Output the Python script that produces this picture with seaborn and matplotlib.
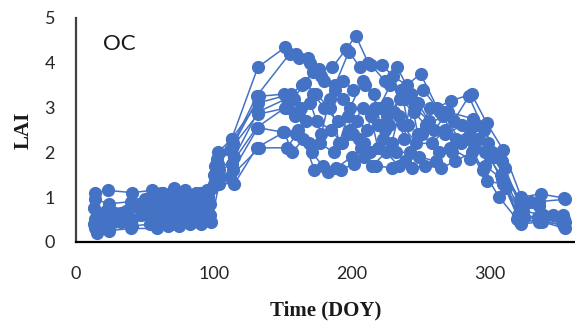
import matplotlib
matplotlib.use("Agg")
import matplotlib.pyplot as plt
import seaborn as sns
import pandas as pd

# Day of year of each LAI observation, one list per season
doy_s1 = [14, 23, 41, 55, 63, 71, 79, 87, 95, 103, 113, 132, 152, 160, 168, 176, 186, 196, 203, 212, 222, 230, 240, 250, 262, 272, 287, 298, 310, 323, 337, 354]
doy_s2 = [14, 24, 40, 57, 65, 72, 80, 88, 96, 102, 114, 131, 155, 162, 170, 178, 188, 198, 206, 214, 224, 233, 243, 252, 264, 274, 285, 296, 309, 322, 336, 355]
doy_s3 = [13, 22, 42, 53, 61, 69, 77, 85, 93, 101, 112, 133, 151, 158, 166, 174, 184, 194, 201, 210, 220, 228, 238, 248, 260, 270, 288, 299, 311, 324, 338, 353]
doy_s4 = [15, 23, 33, 58, 66, 74, 82, 90, 97, 104, 115, 132, 153, 163, 172, 180, 190, 199, 208, 217, 226, 235, 245, 254, 266, 276, 286, 297, 308, 321, 335, 354]
doy_s5 = [14, 24, 41, 52, 60, 68, 76, 84, 92, 100, 113, 131, 152, 159, 167, 175, 185, 193, 204, 211, 219, 227, 237, 247, 258, 268, 289, 300, 312, 325, 339, 355]
doy_s6 = [13, 23, 33, 56, 64, 73, 81, 89, 97, 103, 114, 132, 150, 161, 169, 177, 187, 197, 205, 213, 223, 232, 242, 251, 263, 273, 284, 295, 307, 320, 336, 353]
doy_s7 = [14, 22, 41, 54, 62, 70, 78, 86, 94, 102, 112, 133, 153, 160, 171, 179, 189, 200, 207, 215, 225, 234, 244, 253, 265, 275, 287, 298, 310, 322, 337, 354]
doy_s8 = [15, 24, 40, 59, 67, 75, 83, 91, 98, 104, 115, 131, 151, 157, 165, 173, 183, 192, 202, 209, 218, 229, 239, 249, 261, 271, 286, 297, 309, 323, 338, 355]
doy_s9 = [18, 28, 36, 46, 50, 58, 62, 66, 70, 74, 78, 82, 86, 90, 94, 99, 103, 113, 132, 156, 164, 172, 180, 188, 194, 199, 208, 216, 221, 226, 231, 236, 241, 246, 256, 268, 280, 292, 304, 322, 330, 346]
doy_s10 = [17, 27, 37, 47, 51, 56, 60, 64, 68, 72, 76, 80, 84, 88, 92, 96, 103, 113, 132, 154, 162, 170, 178, 184, 191, 197, 201, 209, 214, 219, 224, 229, 234, 238, 243, 248, 257, 267, 279, 291, 302, 322, 336, 352]

# Leaf area index at those dates
lai_s1 = [1.10, 1.15, 1.10, 1.15, 1.10, 1.20, 1.15, 1.10, 1.15, 2.00, 2.30, 3.90, 4.35, 4.20, 4.10, 3.85, 3.90, 4.30, 4.60, 4.00, 3.95, 3.70, 3.50, 3.75, 3.00, 3.15, 3.30, 2.65, 2.05, 1.00, 1.07, 0.98]
lai_s2 = [0.95, 0.85, 0.90, 1.00, 1.05, 1.00, 1.10, 1.05, 1.00, 1.85, 2.20, 3.25, 4.20, 4.10, 4.00, 3.70, 3.50, 4.25, 3.90, 3.95, 3.60, 3.90, 3.30, 3.40, 2.90, 2.70, 3.25, 2.50, 1.80, 0.80, 0.90, 0.95]
lai_s3 = [0.75, 0.70, 0.80, 0.90, 0.85, 0.95, 0.90, 0.95, 0.90, 1.70, 2.05, 3.25, 3.30, 3.20, 3.55, 3.30, 3.00, 3.60, 3.40, 3.50, 3.00, 3.50, 3.20, 3.10, 2.50, 2.90, 2.75, 2.20, 1.65, 0.70, 0.60, 0.60]
lai_s4 = [0.60, 0.55, 0.65, 0.75, 0.80, 0.70, 0.80, 0.75, 0.85, 1.60, 1.90, 2.90, 3.20, 3.00, 3.30, 3.00, 2.70, 2.50, 3.00, 3.00, 2.80, 3.20, 2.90, 2.60, 2.80, 2.30, 2.50, 2.00, 1.50, 0.60, 0.55, 0.50]
lai_s5 = [0.50, 0.45, 0.50, 0.60, 0.65, 0.60, 0.70, 0.65, 0.70, 1.50, 1.75, 2.55, 3.00, 2.80, 2.70, 2.70, 2.50, 2.20, 2.70, 2.50, 2.60, 2.60, 2.60, 2.20, 2.20, 2.50, 2.10, 1.90, 1.20, 0.55, 0.50, 0.45]
lai_s6 = [0.40, 0.40, 0.45, 0.50, 0.55, 0.50, 0.60, 0.55, 0.60, 1.40, 1.60, 2.55, 2.45, 2.50, 2.20, 2.20, 2.00, 2.40, 2.30, 2.00, 2.30, 2.00, 2.00, 2.40, 2.00, 2.00, 2.30, 1.60, 1.00, 0.50, 0.45, 0.40]
lai_s7 = [0.30, 0.30, 0.35, 0.40, 0.45, 0.40, 0.45, 0.50, 0.50, 1.35, 1.45, 2.10, 2.10, 2.40, 2.00, 1.70, 1.65, 1.90, 2.10, 1.70, 2.00, 1.70, 1.65, 1.70, 1.65, 1.80, 2.00, 1.35, 1.30, 0.45, 0.50, 0.35]
lai_s8 = [0.20, 0.25, 0.30, 0.30, 0.35, 0.35, 0.40, 0.40, 0.45, 1.30, 1.30, 2.10, 2.45, 2.00, 2.30, 1.60, 1.55, 1.60, 1.75, 1.90, 1.70, 1.65, 1.80, 1.90, 1.80, 2.10, 1.85, 1.70, 1.40, 0.40, 0.45, 0.30]
lai_s9 = [0.55, 0.65, 0.70, 0.85, 0.95, 1.05, 1.10, 0.95, 1.05, 0.90, 1.00, 1.05, 0.95, 1.10, 1.00, 1.20, 1.60, 2.30, 3.10, 3.30, 3.50, 3.80, 3.60, 3.40, 3.20, 3.00, 3.60, 3.30, 2.60, 3.10, 2.90, 3.40, 2.60, 3.00, 2.70, 2.40, 2.60, 2.30, 1.90, 0.95, 0.90, 0.60]
lai_s10 = [0.35, 0.45, 0.55, 0.60, 0.70, 0.80, 0.75, 0.85, 0.70, 0.80, 0.65, 0.75, 0.85, 0.70, 0.80, 0.90, 1.75, 2.10, 2.85, 3.00, 2.90, 3.10, 2.40, 3.20, 2.20, 2.80, 2.40, 2.20, 2.80, 2.10, 2.50, 2.20, 2.80, 2.30, 3.20, 2.40, 3.00, 2.90, 2.20, 2.60, 2.00, 0.70, 0.80, 0.50]

series_names = ["S1", "S2", "S3", "S4", "S5", "S6", "S7", "S8", "S9", "S10"]
doys = [doy_s1, doy_s2, doy_s3, doy_s4, doy_s5, doy_s6, doy_s7, doy_s8, doy_s9, doy_s10]
lais = [lai_s1, lai_s2, lai_s3, lai_s4, lai_s5, lai_s6, lai_s7, lai_s8, lai_s9, lai_s10]

frames = [pd.DataFrame({"DOY": d, "LAI": v, "series": n}) for n, d, v in zip(series_names, doys, lais)]
df = pd.concat(frames, ignore_index=True)

sns.set_style("white")
plt.rcParams["font.family"] = ["Lato", "DejaVu Sans"]

blue = "#4472C4"
fig = plt.figure(figsize=(5.75, 3.26), dpi=100)
ax = fig.add_axes([0.132, 0.258, 0.868, 0.687])

sns.lineplot(data=df, x="DOY", y="LAI", hue="series",
             palette=[blue] * len(series_names), estimator=None, sort=False,
             marker="o", markersize=9.5, markeredgewidth=0, linewidth=1.1,
             legend=False, ax=ax, clip_on=False)

ax.set_xlim(0, 362)
ax.set_ylim(0, 5)
ax.set_xticks([0, 100, 200, 300])
ax.set_yticks([0, 1, 2, 3, 4, 5])

for side in ["top", "right"]:
    ax.spines[side].set_visible(False)
ax.spines["left"].set_color("#404040")
ax.spines["bottom"].set_color("black")
ax.spines["left"].set_linewidth(1.6)
ax.spines["bottom"].set_linewidth(1.6)

ax.tick_params(axis="both", direction="in", length=6, width=1.6, color="black",
               labelsize=13, labelcolor="#262626")
ax.tick_params(axis="y", pad=15)
ax.tick_params(axis="x", pad=17)

serif_bold = dict(family="Liberation Serif", fontweight="bold", fontsize=15, color="#1a1a1a")
ax.set_xlabel("Time (DOY)", labelpad=14, **serif_bold)
ax.set_ylabel("LAI", labelpad=8, **serif_bold)

ax.text(0.055, 0.93, "OC", transform=ax.transAxes, fontsize=16,
        ha="left", va="top", color="#1a1a1a")

fig.savefig("out.png", dpi=100)
